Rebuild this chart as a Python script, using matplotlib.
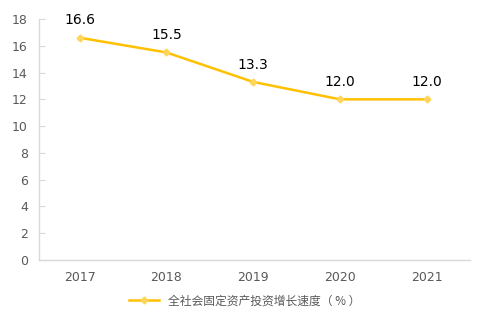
import matplotlib.pyplot as plt

years = ["2017", "2018", "2019", "2020", "2021"]
growth = [16.6, 15.5, 13.3, 12.0, 12.0]
y_ticks = [0, 2, 4, 6, 8, 10, 12, 14, 16, 18]

plt.rcParams['font.family'] = ['Noto Sans CJK SC', 'DejaVu Sans']

fig = plt.figure(figsize=(4.89, 3.27), dpi=100)
ax = fig.add_axes([39 / 489, 1 - 260 / 327, 431 / 489, 241 / 327])

x = list(range(len(years)))
ax.plot(x, growth, color="#FFC000", linewidth=1.8, marker="D", markersize=3.5,
        markerfacecolor="#FFD55A", markeredgecolor="#FFD55A",
        label="全社会固定资产投资增长速度（ % ）")

for xi, v in zip(x, growth):
    ax.annotate(f"{v:.1f}", (xi, v), xytext=(0, 7.5), textcoords="offset points",
                ha="center", va="bottom", fontsize=10, color="#000000",
                family="DejaVu Sans")

ax.set_xlim(-0.47, 4.5)
ax.set_ylim(0, 18)
ax.set_xticks(x)
ax.set_xticklabels(years, family="DejaVu Sans")
ax.set_yticks(y_ticks)
ax.set_yticklabels([str(t) for t in y_ticks], family="DejaVu Sans")

for side in ["top", "right"]:
    ax.spines[side].set_visible(False)
for side in ["left", "bottom"]:
    ax.spines[side].set_color("#D9D9D9")
    ax.spines[side].set_linewidth(1)

ax.tick_params(axis="y", direction="in", length=4, color="#D9D9D9",
               labelsize=9, labelcolor="#595959", pad=8)
ax.tick_params(axis="x", length=0, labelsize=9, labelcolor="#595959", pad=8)

fig.legend(loc="center", bbox_to_anchor=(245 / 489, 1 - 301 / 327), frameon=False,
           fontsize=8.5, labelcolor="#595959", handlelength=2.5)

plt.savefig("out.png", dpi=100)
